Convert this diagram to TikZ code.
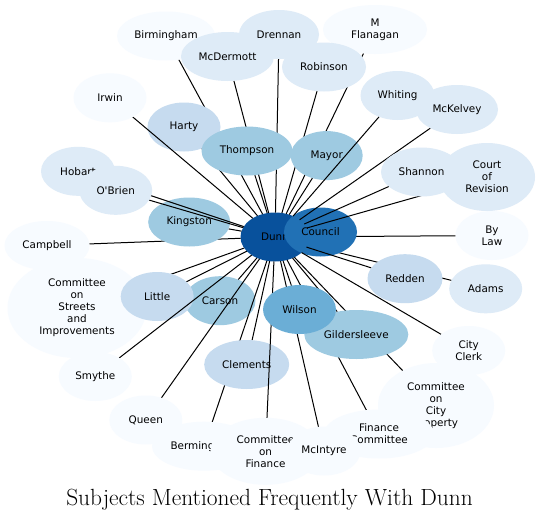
\documentclass[tikz,border=0pt]{standalone}
\usepackage{fontspec}
\usetikzlibrary{shapes.geometric}
\newfontfamily\lblfont{DejaVu Sans}
\definecolor{b0}{HTML}{F7FBFF}
\definecolor{b1}{HTML}{DEEBF7}
\definecolor{b2}{HTML}{C6DBEF}
\definecolor{b3}{HTML}{9ECAE1}
\definecolor{b4}{HTML}{6BAED6}
\definecolor{b6}{HTML}{2171B5}
\definecolor{b7}{HTML}{08519C}
\tikzset{
  bub/.style={ellipse, inner sep=0pt, outer sep=0pt, align=center,
    minimum height=49pt, font=\lblfont\fontsize{10.4}{12}\selectfont},
  link/.style={draw=black, line width=1pt}
}
% name/x/y/width/height/colour/label, in drawing order
\def\behind{bylaw/492/235.5/73/49/b0/{By\\Law},
  adams/485.7/288.8/73/49/b1/Adams}
\def\infront{birmingham/166/36/98/49/b0/Birmingham,
  drennan/279/34.5/80/49/b1/Drennan,
  mflanagan/375/29.5/104/49/b0/{M\\Flanagan},
  mcdermott/227.5/56.5/93/49/b1/McDermott,
  robinson/324/67/84/49/b1/Robinson,
  harty/184/127/73/49/b2/Harty,
  thompson/247/151/91/49/b3/Thompson,
  mayor/326.7/155.6/72/49/b3/Mayor,
  redden/405/278.7/75/49/b2/Redden,
  whiting/397.5/95.5/74/49/b1/Whiting,
  mckelvey/457/109.5/82/49/b1/McKelvey,
  revision/487/177/96/68/b1/{Court\\of\\Revision},
  shannon/421.5/172/81/49/b1/Shannon,
  irwin/110/97.8/73/49/b0/Irwin,
  campbell/47/245.5/85/49/b0/Campbell,
  kingston/189.2/222/82/49/b3/Kingston,
  hobart/78/171.3/74/49/b1/Hobart,
  obrien/115.7/190.3/73/49/b1/{O\textquotesingle Brien},
  streets/77/308/139/100/b0/{Committee\\on\\Streets\\and\\Improvements},
  carson/220/300.7/71/49/b3/Carson,
  little/157.2/296.5/73/49/b2/Little,
  smythe/95.3/376.5/73/49/b0/Smythe,
  queen/145.8/420/73/49/b0/Queen,
  bermingham/204/446.2/104/49/b0/Bermingham,
  clements/246.7/364.5/85/49/b2/Clements,
  finance/265.5/451.3/110/67/b0/{Committee\\on\\Finance},
  property/436/405.5/116/85/b0/{Committee\\on\\City\\Property},
  fincom/379/434/110/49/b0/{Finance\\Committee},
  gildersleeve/356.3/334.5/104/49/b3/Gildersleeve,
  mcintyre/324/451/73/49/b0/McIntyre,
  wilson/299.5/309.5/73/49/b4/Wilson,
  clerk/468.7/350.5/73/49/b0/{City\\Clerk}}
\begin{document}
\begin{tikzpicture}[x=1pt, y=-1pt]
\path[use as bounding box, fill=white] (0,0) rectangle (539,520);
% borders first, so every edge can be clipped before its node is painted
\foreach \nm/\xx/\yy/\ww/\hh/\cc/\tx in \behind
  \node[bub, minimum width=\ww pt, minimum height=\hh pt] (\nm) at (\xx,\yy) {};
\foreach \nm/\xx/\yy/\ww/\hh/\cc/\tx in \infront
  \node[bub, minimum width=\ww pt, minimum height=\hh pt] (\nm) at (\xx,\yy) {};
\node[bub, fill=b7, minimum width=69pt] (dunn) at (275,237) {Dunn};
\foreach \nm/\xx/\yy/\ww/\hh/\cc/\tx in \behind {
  \draw[link] (dunn) -- (\nm);
  \node[bub, fill=\cc, minimum width=\ww pt, minimum height=\hh pt] (\nm) at (\xx,\yy) {\tx};
}
\node[bub, fill=b6, minimum width=73pt] (council) at (320.5,232) {Council};
\foreach \nm/\xx/\yy/\ww/\hh/\cc/\tx in \infront {
  \draw[link] (dunn) -- (\nm);
  \node[bub, fill=\cc, minimum width=\ww pt, minimum height=\hh pt] (\nm) at (\xx,\yy) {\tx};
}
\node[anchor=base, font=\fontsize{23.4}{28}\selectfont] (title) at (269.5,505)
  {Subjects Mentioned Frequently With Dunn};
\end{tikzpicture}
\end{document}
